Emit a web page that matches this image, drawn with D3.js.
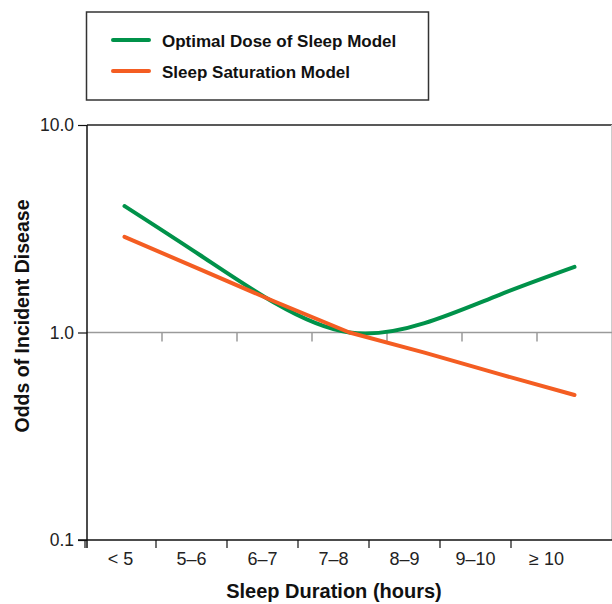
<!DOCTYPE html>
<html>
<head>
<meta charset="utf-8">
<script src="https://cdn.jsdelivr.net/npm/d3@7"></script>
<style>
  body { margin: 0; background: #fff; }
  svg { display: block; font-family: "Liberation Sans", Arial, sans-serif; }
</style>
</head>
<body>
<div id="chart"></div>
<script>
// data
var categories = ["< 5", "5–6", "6–7", "7–8", "8–9", "9–10", "≥ 10"];
var optimalDose = [4.07, 2.37, 1.39, 1.0, 1.11, 1.52, 2.07];
var saturation = [2.89, 2.02, 1.41, 1.0, 0.80, 0.63, 0.50];
var yTicks = [0.1, 1, 10];
var seriesNames = ["Optimal Dose of Sleep Model", "Sleep Saturation Model"];
var seriesColors = ["#00924a", "#f45d22"];

var width = 612, height = 604;
var plot = {left: 87, right: 612, top: 125, bottom: 540};

var svg = d3.select("#chart").append("svg")
    .attr("width", width)
    .attr("height", height);

var y = d3.scaleLog().domain([0.1, 10]).range([plot.bottom, plot.top]);
// lines sit in bands spanning the full plot width
var xLine = d3.scaleBand().domain(categories).range([plot.left, plot.right]);
// the category labels sit on a slightly narrower band scale
var xAxisBand = d3.scaleBand().domain(categories).range([85, 582]);

// frame: top and right edges
svg.append("line").attr("x1", plot.left).attr("x2", plot.right).attr("y1", plot.top).attr("y2", plot.top)
    .attr("stroke", "#222").attr("stroke-width", 1.5);
svg.append("line").attr("x1", 611.5).attr("x2", 611.5).attr("y1", plot.top).attr("y2", plot.bottom)
    .attr("stroke", "#ccc").attr("stroke-width", 1);

// reference line at 1.0 with its own ticks
svg.append("line").attr("x1", plot.left).attr("x2", plot.right).attr("y1", y(1)).attr("y2", y(1))
    .attr("stroke", "#9a9a9a").attr("stroke-width", 1.5);
svg.selectAll(".refTick")
    .data(categories.slice(1))
    .enter().append("line")
    .attr("class", "refTick")
    .attr("x1", function(d) { return xLine(d); })
    .attr("x2", function(d) { return xLine(d); })
    .attr("y1", y(1))
    .attr("y2", y(1) + 9)
    .attr("stroke", "#9a9a9a").attr("stroke-width", 1.5);

// y axis
var yAxis = svg.append("g")
    .attr("transform", "translate(" + plot.left + ",0)")
    .call(d3.axisLeft(y).tickValues(yTicks).tickFormat(d3.format(".1f")).tickSize(9).tickPadding(4));
yAxis.select(".domain").attr("stroke", "#111").attr("stroke-width", 1.5)
    .attr("d", "M0," + plot.top + "V" + (plot.bottom + 8));
yAxis.selectAll(".tick line").attr("stroke", "#111").attr("stroke-width", 1.2);
yAxis.selectAll(".tick text")
    .attr("font-family", "'Liberation Sans', Arial, sans-serif")
    .attr("font-size", 17.5).attr("fill", "#222");

// x axis
svg.append("line").attr("x1", 78).attr("x2", plot.right).attr("y1", plot.bottom).attr("y2", plot.bottom)
    .attr("stroke", "#111").attr("stroke-width", 1.5);
svg.selectAll(".xTick")
    .data(categories)
    .enter().append("line")
    .attr("class", "xTick")
    .attr("x1", function(d) { return xAxisBand(d); })
    .attr("x2", function(d) { return xAxisBand(d); })
    .attr("y1", plot.bottom)
    .attr("y2", plot.bottom + 8)
    .attr("stroke", "#111").attr("stroke-width", 1.2);
svg.selectAll(".xLabel")
    .data(categories)
    .enter().append("text")
    .attr("class", "xLabel")
    .attr("x", function(d) { return xAxisBand(d) + xAxisBand.bandwidth() / 2; })
    .attr("y", 565)
    .attr("text-anchor", "middle")
    .attr("font-size", 18)
    .attr("fill", "#222")
    .text(function(d) { return d; });

// axis titles
svg.append("text")
    .attr("x", 334).attr("y", 598)
    .attr("text-anchor", "middle")
    .attr("font-size", 20).attr("font-weight", "bold").attr("fill", "#111")
    .text("Sleep Duration (hours)");
svg.append("text")
    .attr("transform", "translate(29,316) rotate(-90)")
    .attr("text-anchor", "middle")
    .attr("font-size", 19.5).attr("font-weight", "bold").attr("fill", "#111")
    .text("Odds of Incident Disease");

// series lines
var series = [optimalDose, saturation];
var curves = [d3.curveNatural, d3.curveLinear];
series.forEach(function(values, i) {
    var line = d3.line()
        .x(function(d, j) { return xLine(categories[j]) + xLine.bandwidth() / 2; })
        .y(function(d) { return y(d); })
        .curve(curves[i]);
    svg.append("path")
        .datum(values)
        .attr("d", line)
        .attr("fill", "none")
        .attr("stroke", seriesColors[i])
        .attr("stroke-width", 4)
        .attr("stroke-linecap", "round")
        .attr("stroke-linejoin", "round");
});

// legend
var legend = svg.append("g");
legend.append("rect")
    .attr("x", 86.5).attr("y", 12).attr("width", 342).attr("height", 88)
    .attr("fill", "none").attr("stroke", "#333").attr("stroke-width", 1.5);
var items = legend.selectAll(".item")
    .data(seriesNames)
    .enter().append("g")
    .attr("class", "item")
    .attr("transform", function(d, i) { return "translate(0," + (40 + i * 31) + ")"; });
items.append("line")
    .attr("x1", 113).attr("x2", 149)
    .attr("stroke", function(d, i) { return seriesColors[i]; })
    .attr("stroke-width", 4)
    .attr("stroke-linecap", "round");
items.append("text")
    .attr("x", 162).attr("y", 7)
    .attr("font-size", 17).attr("font-weight", "bold").attr("fill", "#111")
    .text(function(d) { return d; });
</script>
</body>
</html>
